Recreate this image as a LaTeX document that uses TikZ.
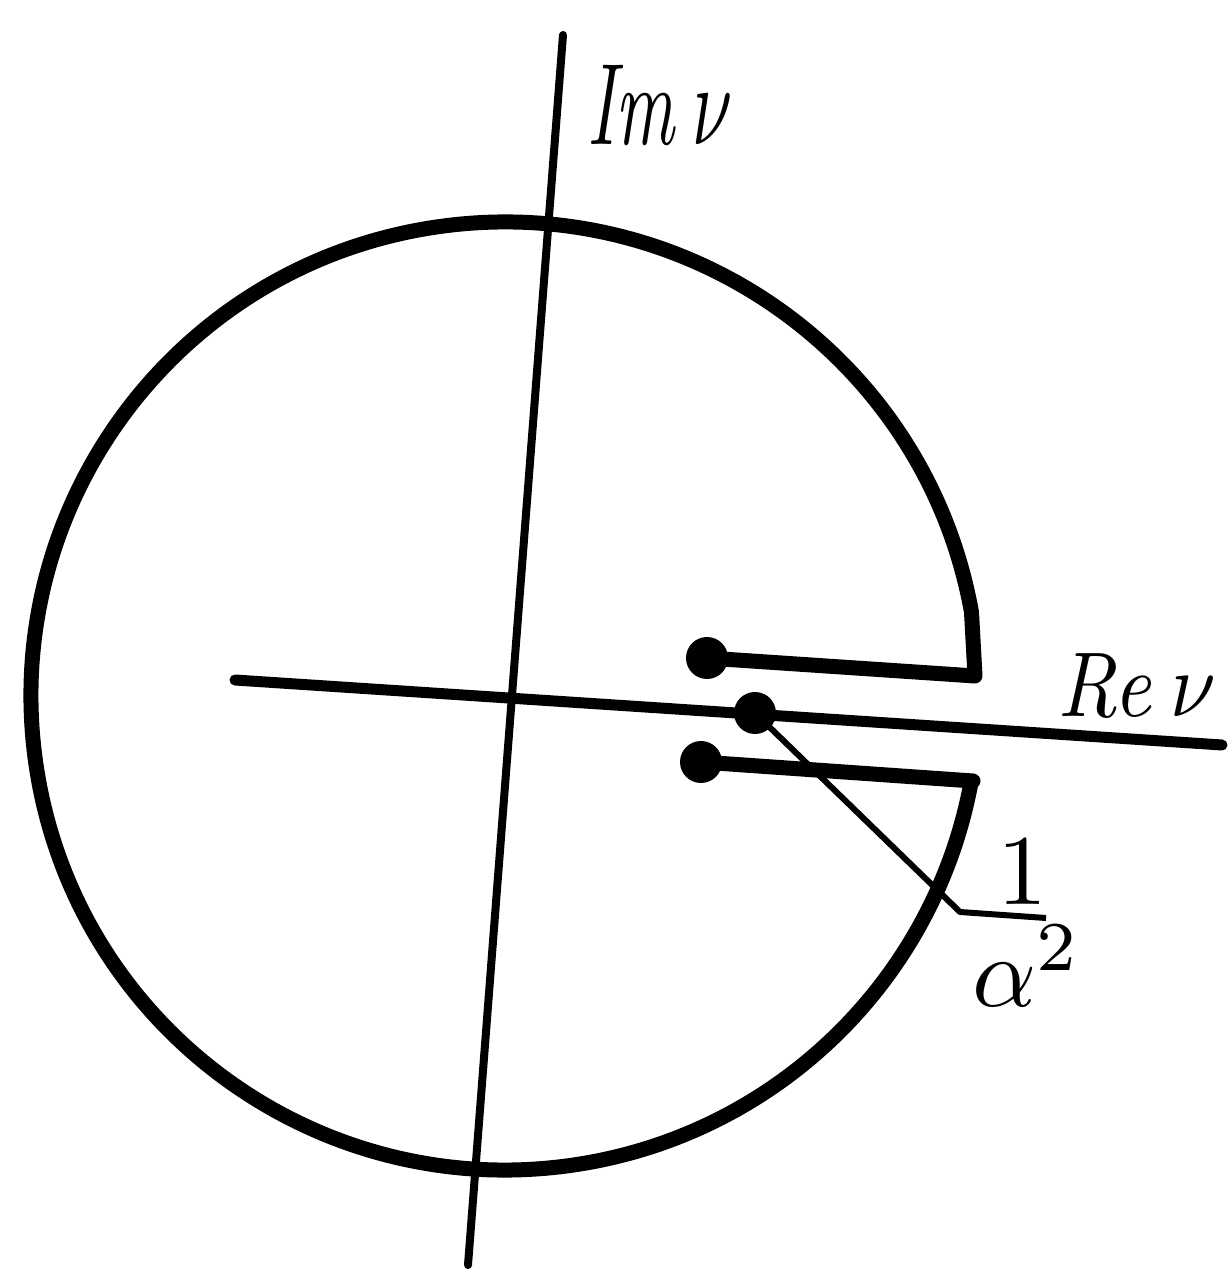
\documentclass[tikz,border=0pt]{standalone}
\begin{document}
\begin{tikzpicture}[x=0.5pt,y=0.5pt,
  contour/.style={line width=7.5pt, line join=round, line cap=round},
  reaxis/.style={line width=5.5pt, line cap=round},
  imaxis/.style={line width=4pt, line cap=round},
  leader/.style={line width=3pt, line join=round},
  blob/.style={circle, fill=black, inner sep=0pt, minimum size=21pt},
  lbl/.style={inner sep=0pt}]
\useasboundingbox (0,0) rectangle (1230,1276);
\coordinate (O) at (505,580);
\coordinate (I1) at (563,1241);
\coordinate (I2) at (468,11);
\coordinate (R1) at (235,596);
\coordinate (R2) at (1222,531);
\draw[imaxis] (I1) -- (I2);
\draw[reaxis] (R1) -- (R2);
\node[blob] (U) at (707,618) {};
\node[blob] (L) at (701,514) {};
\node[blob] (D) at (755,563) {};
\coordinate (UC) at (975,600);
\coordinate (LC) at (973,495);
\draw[contour] (U.center) -- (UC) -- ([shift={(10.2:474)}]O) arc[start angle=10.2, end angle=349.7, radius=474] -- (LC) -- (L.center);
\coordinate (K) at (960,364);
\coordinate (B) at (1046,358);
\draw[leader] (D.center) -- (K) -- (B);
\node[lbl, xscale=3.6, yscale=5.8] (im) at (660,1171) {$\mathit{Im}\,\nu$};
\node[lbl, xscale=4.1, yscale=4.6] (re) at (1137,591) {$\mathit{Re}\,\nu$};
\node[lbl, scale=5.0] (one) at (1022,404) {$1$};
\node[lbl, scale=5.0] (al) at (1027,310) {$\alpha^2$};
\end{tikzpicture}
\end{document}
